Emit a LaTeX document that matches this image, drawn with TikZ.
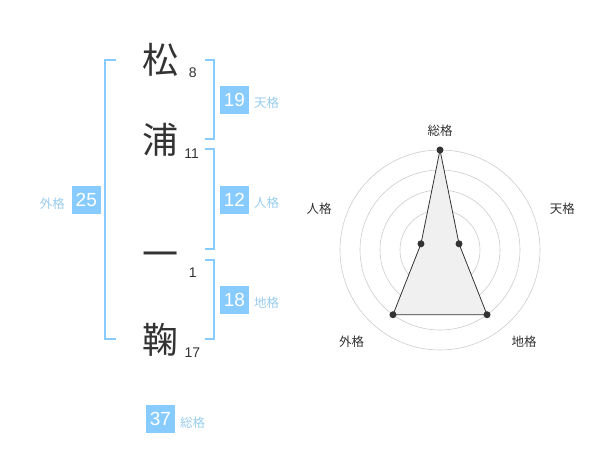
\documentclass[tikz,border=0pt]{standalone}
\usepackage{fontspec}
\setmainfont{Liberation Sans}
\newfontfamily\cjk{Noto Sans CJK JP}
\usetikzlibrary{positioning}
\definecolor{kakublue}{HTML}{88CCFF}
\definecolor{kakulabel}{HTML}{99CCEE}
\definecolor{radarline}{HTML}{333333}

\begin{document}
\begin{tikzpicture}[x=1pt,y=-1pt]
  \tikzstyle{kanji}=[font=\cjk\fontsize{36}{36}\selectfont,text=radarline,inner sep=0pt]
  \tikzstyle{strokes}=[font=\fontsize{14}{14}\selectfont,text=radarline,inner sep=0pt]
  \tikzstyle{kakubox}=[fill=kakublue,text=white,minimum width=29pt,
                       minimum height=28pt,inner sep=0pt,font=\fontsize{19}{19}\selectfont]
  \tikzstyle{kakuname}=[text=kakulabel,font=\cjk\fontsize{12.5}{12.5}\selectfont,inner sep=0pt]
  \tikzstyle{bracket}=[draw=kakublue,line width=2pt]
  \tikzstyle{ring}=[draw=black!20,line width=0.6pt]
  \tikzstyle{dot}=[circle,fill=radarline,inner sep=0pt,minimum size=7pt]
  \tikzstyle{axis label}=[font=\cjk\fontsize{12.5}{12.5}\selectfont,text=radarline]
  \useasboundingbox (0,0) rectangle (600,470);

  % name and stroke counts
  \node [kanji] (matsu) at (160,60)  {松};
  \node [kanji] (ura)   at (160,140) {浦};
  \node [kanji] (ichi)  at (160,260) {一};
  \node [kanji] (mari)  at (160,340) {鞠};
  \node [strokes] at (192.7,72.7)  {8};
  \node [strokes] at (191.7,153.3) {11};
  \node [strokes] at (192.7,272.7) {1};
  \node [strokes] at (192.3,352.7) {17};

  % brackets
  \draw [bracket] (116,60) -- (105,60) -- (105,339) -- (116,339);
  \draw [bracket] (205,60) -- (214,60) -- (214,139) -- (205,139);
  \draw [bracket] (205,149) -- (214,149) -- (214,249) -- (205,249);
  \draw [bracket] (205,260) -- (214,260) -- (214,339) -- (205,339);

  % kaku boxes
  \node [kakubox] (ten)  at (234.5,100) {19};
  \node [kakuname,anchor=west] at (254,103) {天格};
  \node [kakubox] (jin)  at (234.5,200) {12};
  \node [kakuname,anchor=west] at (254,203) {人格};
  \node [kakubox] (chi)  at (234.5,300) {18};
  \node [kakuname,anchor=west] at (254,303) {地格};
  \node [kakubox] (gai)  at (86.3,200)  {25};
  \node [kakuname,anchor=east] at (65,204) {外格};
  \node [kakubox] (sou)  at (160.5,419) {37};
  \node [kakuname,anchor=west] at (180,422.7) {総格};

  % radar chart
  \begin{scope}[shift={(440,250)},yscale=-1]
    \foreach \r in {20,40,...,100}
      \draw [ring] (0,0) circle (\r);
    \node [circle,fill=black!20,inner sep=0pt,minimum size=6pt] (hub) at (0,0) {};
    \coordinate (r sou) at (90:100);
    \coordinate (r ten) at (18:20);
    \coordinate (r chi) at (-54:80);
    \coordinate (r gai) at (234:80);
    \coordinate (r jin) at (162:20);
    \draw [fill=black!6,draw=radarline,line width=0.8pt]
      (r sou) -- (r ten) -- (r chi) -- (r gai) -- (r jin) -- cycle;
    \foreach \p in {sou,ten,chi,gai,jin}
      \node [dot] at (r \p) {};
    \node [axis label] at (0,119.3)    {総格};
    \node [axis label] at (122.3,41.7) {天格};
    \node [axis label] at (84,-91.7)   {地格};
    \node [axis label] at (-88.3,-91.7) {外格};
    \node [axis label] at (-121,41.7)  {人格};
  \end{scope}
\end{tikzpicture}
\end{document}
